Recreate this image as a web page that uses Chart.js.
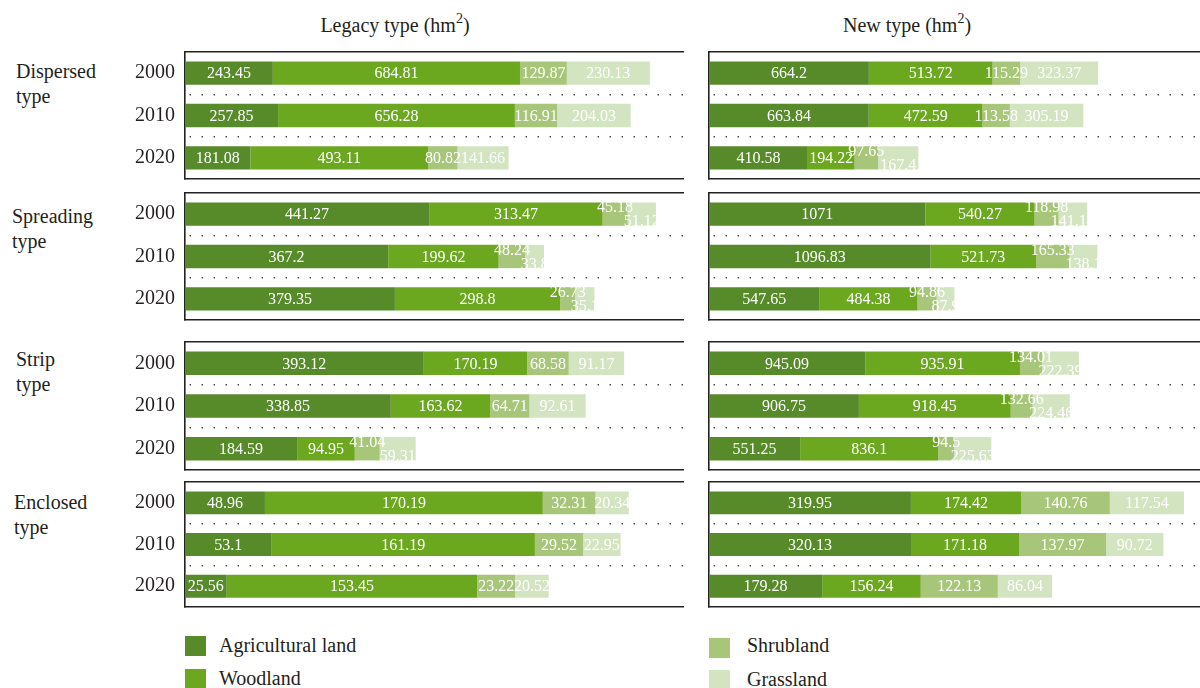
<!DOCTYPE html>
<html>
<head>
<meta charset="utf-8">
<script src="https://cdn.jsdelivr.net/npm/chart.js@4"></script>
<style>
  html, body { margin: 0; padding: 0; background: #fff; }
  body { width: 1200px; height: 688px; position: relative; overflow: hidden;
         font-family: 'Liberation Serif', 'DejaVu Serif', serif; color: #231f20; }
  .t { position: absolute; font-size: 20px; line-height: 25px; white-space: nowrap; }
  .t sup { font-size: 14px; line-height: 0; vertical-align: 9px; }
  canvas { position: absolute; }
  .sq { position: absolute; width: 21px; height: 20px; }
</style>
</head>
<body>
<div class="t" style="left:245px;top:13px;width:300px;text-align:center;">Legacy type (hm<sup>2</sup>)</div>
<div class="t" style="left:757px;top:13px;width:300px;text-align:center;">New type (hm<sup>2</sup>)</div>
<div id="rowLabels"></div>
<div id="legend"></div>
<div id="panels"></div>
<script>
// ---------- data ----------
const years = ['2000', '2010', '2020'];
const typeNames = ['Dispersed type', 'Spreading type', 'Strip type', 'Enclosed type'];
const columnTitles = ['Legacy type', 'New type'];
const landUse = ['Agricultural land', 'Woodland', 'Shrubland', 'Grassland'];
const landColors = ['#578b2a', '#6ca81f', '#a8c67a', '#d3e4c1'];

// Legacy type (hm²): per settlement type, values for 2000, 2010, 2020
const legacyAgri  = [[243.45, 257.85, 181.08], [441.27, 367.2, 379.35], [393.12, 338.85, 184.59], [48.96, 53.1, 25.56]];
const legacyWood  = [[684.81, 656.28, 493.11], [313.47, 199.62, 298.8], [170.19, 163.62, 94.95], [170.19, 161.19, 153.45]];
const legacyShrub = [[129.87, 116.91, 80.82], [45.18, 48.24, 26.73], [68.58, 64.71, 41.04], [32.31, 29.52, 23.22]];
const legacyGrass = [[230.13, 204.03, 141.66], [51.12, 33.8, 35.1], [91.17, 92.61, 59.31], [20.34, 22.95, 20.52]];

// New type (hm²)
const newAgri  = [[664.2, 663.84, 410.58], [1071, 1096.83, 547.65], [945.09, 906.75, 551.25], [319.95, 320.13, 179.28]];
const newWood  = [[513.72, 472.59, 194.22], [540.27, 521.73, 484.38], [935.91, 918.45, 836.1], [174.42, 171.18, 156.24]];
const newShrub = [[115.29, 113.58, 97.65], [118.98, 165.33, 94.86], [134.01, 132.66, 94.5], [140.76, 137.97, 122.13]];
const newGrass = [[323.37, 305.19, 167.4], [141.12, 138.1, 87.9], [222.39, 224.46, 225.63], [117.54, 90.72, 86.04]];

// axis maxima of each panel (each panel has its own scale)
const legacyAxisMax = [1380, 900, 820, 305];
const newAxisMax = [2040, 2430, 2970, 778];

// ---------- layout ----------
const frameTops = [52, 193, 342, 482];
const frameHeights = [127, 127, 128, 125];
const rowLabelPos = [[16, 59], [12, 204], [16, 347], [14, 490]];

const FONT = "'Liberation Serif', 'DejaVu Serif', serif";

// row labels
const rl = document.getElementById('rowLabels');
typeNames.forEach((name, r) => {
  const d = document.createElement('div');
  d.className = 't';
  d.style.left = rowLabelPos[r][0] + 'px';
  d.style.top = rowLabelPos[r][1] + 'px';
  const parts = name.split(' ');
  d.innerHTML = parts[0] + '<br>' + parts.slice(1).join(' ');
  rl.appendChild(d);
});

// legend
const legendPos = [[185, 636, 219, 633], [185, 669, 219, 666], [709, 638, 747, 633], [709, 670, 747, 667]];
const lg = document.getElementById('legend');
landUse.forEach((name, k) => {
  const sq = document.createElement('div');
  sq.className = 'sq';
  sq.style.left = legendPos[k][0] + 'px';
  sq.style.top = legendPos[k][1] + 'px';
  sq.style.background = landColors[k];
  lg.appendChild(sq);
  const tx = document.createElement('div');
  tx.className = 't';
  tx.style.left = legendPos[k][2] + 'px';
  tx.style.top = legendPos[k][3] + 'px';
  tx.textContent = name;
  lg.appendChild(tx);
});

// value labels plugin: centered white labels; shrubland/grassland labels
// are staggered (up / down) when they would collide with each other
const valueLabels = {
  id: 'valueLabels',
  afterDatasetsDraw(chart) {
    const ctx = chart.ctx;
    ctx.save();
    ctx.font = '16px ' + FONT;
    ctx.fillStyle = '#ffffff';
    ctx.textAlign = 'center';
    ctx.textBaseline = 'middle';
    const dsets = chart.data.datasets;
    dsets.forEach((ds, di) => {
      const meta = chart.getDatasetMeta(di);
      meta.data.forEach((bar, i) => {
        const p = bar.getProps(['x', 'y', 'base'], true);
        const text = String(ds.data[i]);
        let dy = 1;
        if (di >= 2) {
          const sb = chart.getDatasetMeta(2).data[i].getProps(['x', 'base'], true);
          const gb = chart.getDatasetMeta(3).data[i].getProps(['x', 'base'], true);
          const dist = (gb.x + gb.base) / 2 - (sb.x + sb.base) / 2;
          const need = ctx.measureText(String(dsets[2].data[i])).width / 2 +
                       ctx.measureText(String(dsets[3].data[i])).width / 2;
          if (need - 2 > dist) dy = (di === 2) ? -6 : 8;
        }
        ctx.fillText(text, (p.x + p.base) / 2, p.y + dy);
      });
    });
    ctx.restore();
  }
};

const panelsEl = document.getElementById('panels');

function makePanel(col, row) {
  const isLeft = col === 0;
  const canvas = document.createElement('canvas');
  const left = isLeft ? 120 : 706;
  const width = isLeft ? 565 : 494;
  const top = frameTops[row] - 2;
  const height = frameHeights[row] + 4;
  canvas.width = width;
  canvas.height = height;
  canvas.style.left = left + 'px';
  canvas.style.top = top + 'px';
  canvas.style.width = width + 'px';
  canvas.style.height = height + 'px';
  panelsEl.appendChild(canvas);

  const series = isLeft
    ? [legacyAgri, legacyWood, legacyShrub, legacyGrass]
    : [newAgri, newWood, newShrub, newGrass];
  const axisMax = isLeft ? legacyAxisMax[row] : newAxisMax[row];

  new Chart(canvas, {
    type: 'bar',
    data: {
      labels: years,
      datasets: landUse.map((name, k) => ({
        label: name,
        data: series[k][row],
        backgroundColor: landColors[k],
        borderWidth: 0,
        barPercentage: 0.55,
        categoryPercentage: 1.0
      }))
    },
    options: {
      indexAxis: 'y',
      responsive: false,
      animation: false,
      devicePixelRatio: 1,
      layout: { padding: { top: 2, bottom: 2, left: 0, right: isLeft ? 2 : 0 } },
      plugins: { legend: { display: false }, tooltip: { enabled: false } },
      scales: {
        x: {
          type: 'linear', stacked: true, min: 0, max: axisMax, position: 'bottom',
          ticks: { display: false },
          grid: { display: false, drawTicks: false },
          border: { display: true, color: '#222', width: 1.6 },
          afterFit(s) { s.height = 0; }
        },
        x2: {
          type: 'linear', min: 0, max: axisMax, position: 'top',
          ticks: { display: false },
          grid: { display: false, drawTicks: false },
          border: { display: true, color: '#222', width: 1.6 },
          afterFit(s) { s.height = 0; }
        },
        y: {
          type: 'category', stacked: true, offset: true, position: 'left',
          ticks: {
            display: isLeft,
            padding: 10,
            color: '#231f20',
            font: { family: FONT, size: 20 }
          },
          grid: {
            display: true, offset: true, drawTicks: false, lineWidth: 1.4,
            color: (c) => (c.type === 'tick' && c.index > 0) ? '#444' : 'rgba(0,0,0,0)'
          },
          border: { display: true, color: '#222', width: 1.6, dash: [1.4, 10.6], dashOffset: -4 },
          afterFit(s) {
            s.width = isLeft ? 65 : 3;
            s.paddingTop = 0; s.paddingBottom = 0;
          }
        }
      }
    },
    plugins: [valueLabels]
  });
}

for (let row = 0; row < 4; row++) {
  makePanel(0, row);
  makePanel(1, row);
}
</script>
</body>
</html>
